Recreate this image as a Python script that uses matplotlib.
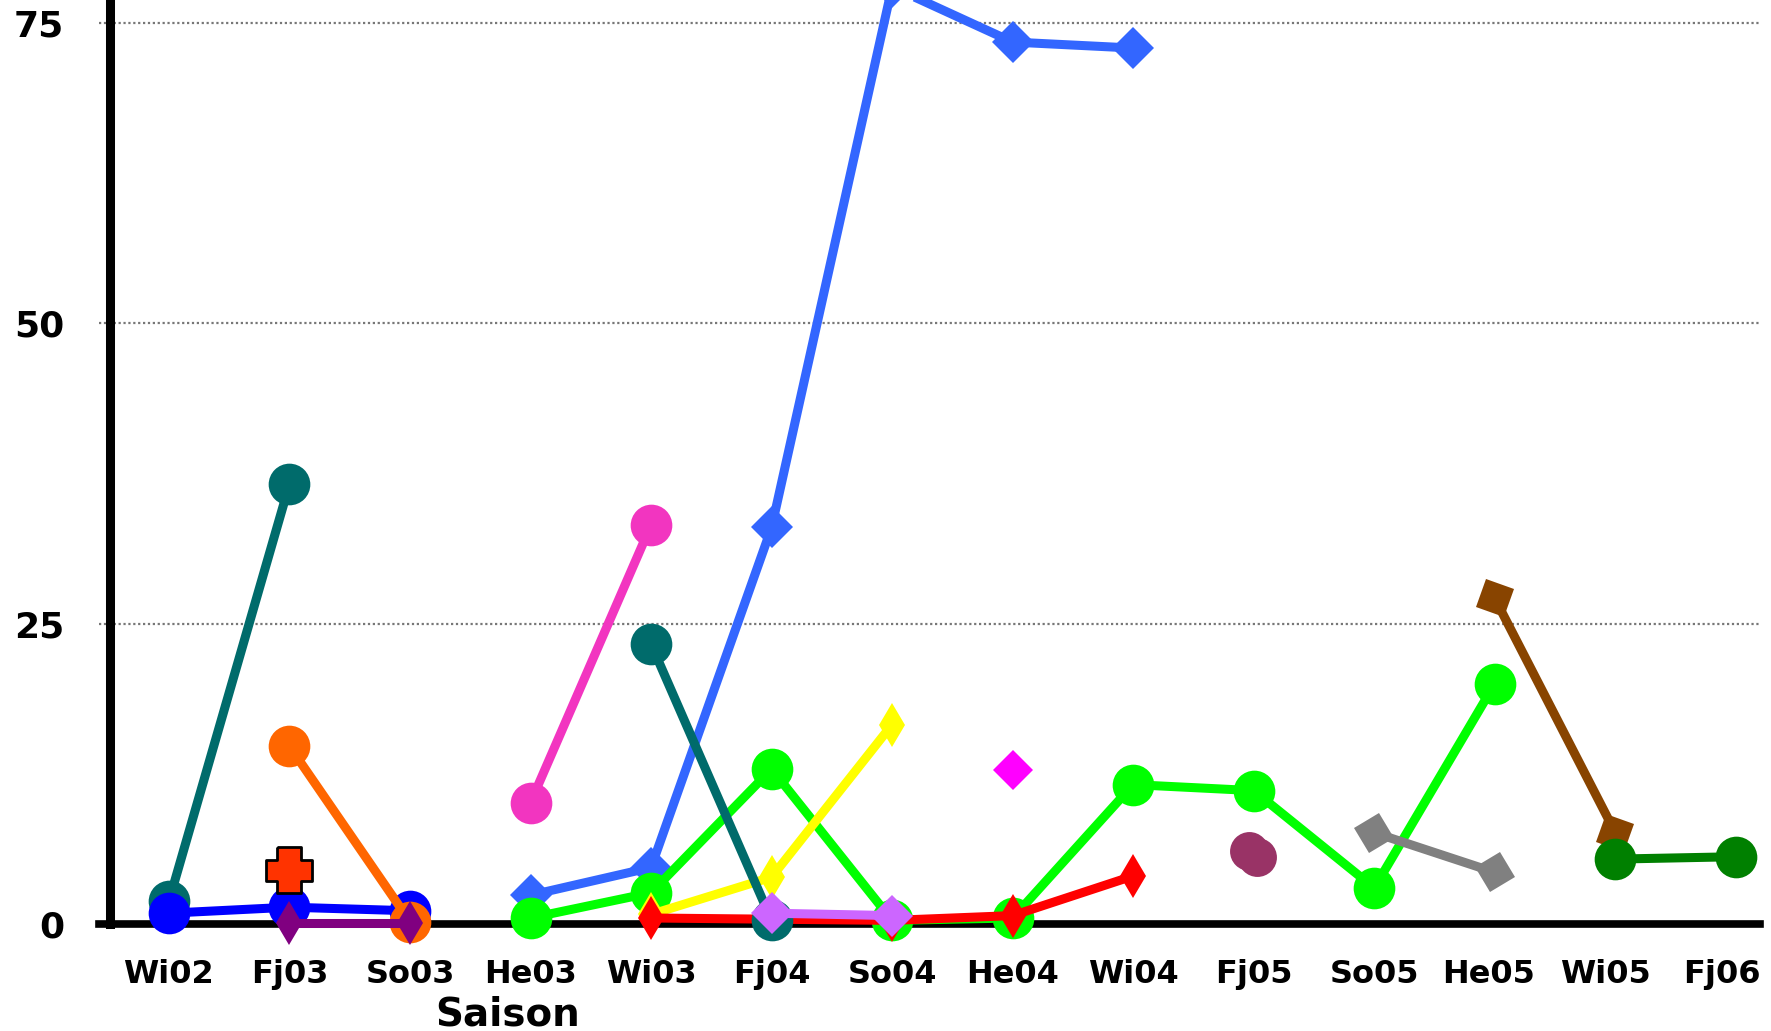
import numpy as np
import matplotlib.pyplot as plt
from matplotlib.markers import MarkerStyle
from matplotlib.transforms import Affine2D, ScaledTranslation

nan = np.nan

seasons = ["Wi02", "Fj03", "So03", "He03", "Wi03", "Fj04", "So04",
           "He04", "Wi04", "Fj05", "So05", "He05", "Wi05", "Fj06"]

# one list per series, nan where the season has no value
teal_a     = [1.9, 36.6, nan, nan, nan, nan, nan, nan, nan, nan, nan, nan, nan, nan]
blue_dark  = [0.9, 1.4, 1.1, nan, nan, nan, nan, nan, nan, nan, nan, nan, nan, nan]
orange     = [nan, 14.8, 0.2, nan, nan, nan, nan, nan, nan, nan, nan, nan, nan, nan]
cross      = [nan, 4.5, nan, nan, nan, nan, nan, nan, nan, nan, nan, nan, nan, nan]
purple     = [nan, 0.1, 0.1, nan, nan, nan, nan, nan, nan, nan, nan, nan, nan, nan]
pink       = [nan, nan, nan, 10.1, 33.2, nan, nan, nan, nan, nan, nan, nan, nan, nan]
blue_light = [nan, nan, nan, 2.4, 4.7, 33.0, 78.0, 73.4, 72.9, nan, nan, nan, nan, nan]
green      = [nan, nan, nan, 0.5, 2.6, 12.9, 0.3, 0.5, 11.6, 11.1, 3.0, 20.0, nan, nan]
yellow     = [nan, nan, nan, nan, 0.8, 3.9, 16.6, nan, nan, nan, nan, nan, nan, nan]
red        = [nan, nan, nan, nan, 0.5, 0.4, 0.3, 0.7, 4.0, nan, nan, nan, nan, nan]
teal_b     = [nan, nan, nan, nan, 23.3, 0.3, nan, nan, nan, nan, nan, nan, nan, nan]
lilac      = [nan, nan, nan, nan, nan, 0.9, 0.7, nan, nan, nan, nan, nan, nan, nan]
magenta    = [nan, nan, nan, nan, nan, nan, nan, 12.8, nan, nan, nan, nan, nan, nan]
maroon_1   = [nan, nan, nan, nan, nan, nan, nan, nan, nan, 6.1, nan, nan, nan, nan]
maroon_2   = [nan, nan, nan, nan, nan, nan, nan, nan, nan, 5.6, nan, nan, nan, nan]
gray       = [nan, nan, nan, nan, nan, nan, nan, nan, nan, nan, 7.6, 4.3, nan, nan]
brown      = [nan, nan, nan, nan, nan, nan, nan, nan, nan, nan, nan, 27.1, 7.6, nan]
dgreen     = [nan, nan, nan, nan, nan, nan, nan, nan, nan, nan, nan, nan, 5.4, 5.6]

x = np.arange(len(seasons))

W, H = 1771, 1031
fig = plt.figure(figsize=(W / 100, H / 100), dpi=100)
ax = fig.add_axes([99 / W, 107 / H, (1760 - 99) / W, 924 / H])
ax.set_xlim(-0.58, 13.2)
ax.set_ylim(0, 76.9)

for s in ["top", "right"]:
    ax.spines[s].set_visible(False)
ax.spines["left"].set_position(("outward", -8))
ax.spines["left"].set_linewidth(6.5)
ax.spines["bottom"].set_linewidth(5.5)
ax.spines["bottom"].set_zorder(1.5)

ax.yaxis.grid(True, linestyle=(0, (1, 1.2)), color="#777777", lw=1.6)
ax.set_axisbelow(True)

ax.set_yticks([0, 25, 50, 75])
ax.tick_params(axis="y", length=0, pad=33, labelsize=26)
ax.set_xticks(x)
ax.set_xticklabels(seasons)
ax.tick_params(axis="x", length=0, pad=25, labelsize=23)
for lab in ax.get_xticklabels() + ax.get_yticklabels():
    lab.set_fontweight("bold")
    lab.set_family("DejaVu Sans")

# the last labels sit a little left of their points in the original
for lab, dx in zip(ax.get_xticklabels()[-3:], [-6, -10, -14]):
    lab.set_transform(lab.get_transform() +
                      ScaledTranslation(dx / 100, 0, fig.dpi_scale_trans))

fig.text(508 / W, 16 / H, "Saison", ha="center", va="center",
         fontsize=28, fontweight="bold", family="DejaVu Sans")


def draw(vals, color, marker, ms, lw=6.5, mec=None, xoff=0.0, mew=0):
    ax.plot(x + xoff, vals, color=color, marker=marker, ms=ms, lw=lw,
            mec=mec or color, mew=mew, clip_on=False)


plus = [(-0.27, 0.5), (0.27, 0.5), (0.27, 0.22), (0.5, 0.22), (0.5, -0.24),
        (0.27, -0.24), (0.27, -0.5), (-0.27, -0.5), (-0.27, -0.24),
        (-0.5, -0.24), (-0.5, 0.22), (-0.27, 0.22), (-0.27, 0.5)]

gray_sq = MarkerStyle("s", transform=Affine2D().rotate_deg(30))
brown_sq = MarkerStyle("s", transform=Affine2D().rotate_deg(-20))

draw(teal_a, "#006B6B", "o", 30)
draw(blue_dark, "#0000FF", "o", 30)
draw(orange, "#FF6600", "o", 30)
draw(cross, "#FF3300", plus, 33, mec="black", mew=2)
draw(purple, "#800080", "d", 22)
draw(pink, "#F235C0", "o", 30)
draw(blue_light, "#3366FF", "D", 21)
draw(green, "#00FF00", "o", 30)
draw(yellow, "#FFFF00", "d", 22)
draw(red, "#FF0000", "d", 22)
draw(teal_b, "#006B6B", "o", 30)
draw(lilac, "#CC66FF", "D", 21)
draw(magenta, "#FF00FF", "D", 20)
draw(maroon_1, "#993366", "o", 28, xoff=-0.04)
draw(maroon_2, "#993366", "o", 28, xoff=0.03)
draw(gray, "#808080", gray_sq, 21)
draw(brown, "#884400", brown_sq, 21)
draw(dgreen, "#008000", "o", 30)

fig.savefig("out.png", dpi=100)
